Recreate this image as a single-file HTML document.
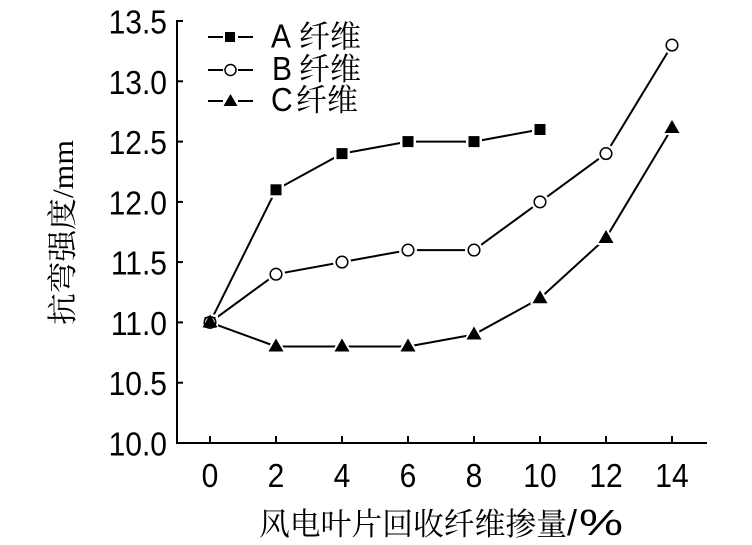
<!DOCTYPE html>
<html>
<head>
<meta charset="utf-8">
<style>
html,body{margin:0;padding:0;background:#fff;}
svg{display:block;}
.num{font-family:"Liberation Sans",Arial,sans-serif;font-size:30px;fill:#000;}
.cjk{font-family:"Liberation Serif","Noto Serif CJK SC",serif;fill:#000;}
</style>
</head>
<body>
<svg width="752" height="545" viewBox="0 0 752 545" xmlns="http://www.w3.org/2000/svg">
  <rect width="752" height="545" fill="#fff"/>
  <!-- axes -->
  <g stroke="#000" stroke-width="2" fill="none">
    <line x1="177" y1="20" x2="177" y2="444"/>
    <line x1="176" y1="443" x2="707" y2="443"/>
    <line x1="177" y1="21" x2="183" y2="21"/>
    <line x1="177" y1="81.3" x2="183" y2="81.3"/>
    <line x1="177" y1="141.6" x2="183" y2="141.6"/>
    <line x1="177" y1="201.9" x2="183" y2="201.9"/>
    <line x1="177" y1="262.1" x2="183" y2="262.1"/>
    <line x1="177" y1="322.4" x2="183" y2="322.4"/>
    <line x1="177" y1="382.7" x2="183" y2="382.7"/>
    <line x1="210" y1="443" x2="210" y2="436"/>
    <line x1="276" y1="443" x2="276" y2="436"/>
    <line x1="342" y1="443" x2="342" y2="436"/>
    <line x1="408" y1="443" x2="408" y2="436"/>
    <line x1="474" y1="443" x2="474" y2="436"/>
    <line x1="540" y1="443" x2="540" y2="436"/>
    <line x1="606" y1="443" x2="606" y2="436"/>
    <line x1="672" y1="443" x2="672" y2="436"/>
  </g>
  <!-- y tick labels -->
  <g class="num" text-anchor="end" transform="scale(1,1.12)">
    <text x="167" y="29.91">13.5</text>
    <text x="167" y="83.75">13.0</text>
    <text x="167" y="137.59">12.5</text>
    <text x="167" y="191.43">12.0</text>
    <text x="167" y="245.18">11.5</text>
    <text x="167" y="299.02">11.0</text>
    <text x="167" y="352.86">10.5</text>
    <text x="167" y="406.7">10.0</text>
  </g>
  <!-- x tick labels -->
  <g class="num" text-anchor="middle" transform="scale(1,1.12)">
    <text x="210" y="434.8">0</text>
    <text x="276" y="434.8">2</text>
    <text x="342" y="434.8">4</text>
    <text x="408" y="434.8">6</text>
    <text x="474" y="434.8">8</text>
    <text x="540" y="434.8">10</text>
    <text x="606" y="434.8">12</text>
    <text x="672" y="434.8">14</text>
  </g>
  <!-- axis titles -->
  <text class="cjk" x="259" y="535" font-size="31" textLength="308" lengthAdjust="spacingAndGlyphs">风电叶片回收纤维掺量</text>
  <text x="567" y="535" font-family="Liberation Sans,Arial,sans-serif" font-size="36">/</text>
  <text x="579" y="535" font-family="Liberation Sans,Arial,sans-serif" font-size="36" textLength="44" lengthAdjust="spacingAndGlyphs">%</text>
  <text class="cjk" transform="translate(73,325) rotate(-90)" x="0" y="0" font-size="30" textLength="185" lengthAdjust="spacingAndGlyphs">抗弯强度/mm</text>

  <!-- series lines -->
  <g stroke="#000" stroke-width="2" fill="none" stroke-linejoin="round">
    <polyline points="210,322.4 276,189.8 342,153.6 408,141.6 474,141.6 540,129.5"/>
    <polyline points="210,322.4 276,274.2 342,262.1 408,250.1 474,250.1 540,201.9 606,153.6 672,45.1"/>
    <polyline points="210,322.4 276,346.5 342,346.5 408,346.5 474,334.5 540,298.3 606,238 672,128"/>
  </g>

  <!-- A markers: squares -->
  <g>
    <g fill="#fff">
      <rect x="202" y="314.4" width="16" height="16"/>
      <rect x="268" y="181.8" width="16" height="16"/>
      <rect x="334" y="145.6" width="16" height="16"/>
      <rect x="400" y="133.6" width="16" height="16"/>
      <rect x="466" y="133.6" width="16" height="16"/>
      <rect x="532" y="121.5" width="16" height="16"/>
    </g>
    <g fill="#000">
      <rect x="204.5" y="316.9" width="11" height="11"/>
      <rect x="270.5" y="184.3" width="11" height="11"/>
      <rect x="336.5" y="148.1" width="11" height="11"/>
      <rect x="402.5" y="136.1" width="11" height="11"/>
      <rect x="468.5" y="136.1" width="11" height="11"/>
      <rect x="534.5" y="124" width="11" height="11"/>
    </g>
  </g>
  <!-- B markers: open circles -->
  <g>
    <g fill="#fff">
      <circle cx="276" cy="274.2" r="9"/>
      <circle cx="342" cy="262.1" r="9"/>
      <circle cx="408" cy="250.1" r="9"/>
      <circle cx="474" cy="250.1" r="9"/>
      <circle cx="540" cy="201.9" r="9"/>
      <circle cx="606" cy="153.6" r="9"/>
      <circle cx="672" cy="45.1" r="9"/>
    </g>
    <g fill="#fff" stroke="#000" stroke-width="1.5">
      <circle cx="210" cy="322.4" r="5.8"/>
      <circle cx="276" cy="274.2" r="5.8"/>
      <circle cx="342" cy="262.1" r="5.8"/>
      <circle cx="408" cy="250.1" r="5.8"/>
      <circle cx="474" cy="250.1" r="5.8"/>
      <circle cx="540" cy="201.9" r="5.8"/>
      <circle cx="606" cy="153.6" r="5.8"/>
      <circle cx="672" cy="45.1" r="5.8"/>
    </g>
  </g>
  <!-- C markers: triangles -->
  <g>
    <g fill="#fff" stroke="#fff" stroke-width="4" stroke-linejoin="round">
      <polygon points="276,338.5 283.5,351.5 268.5,351.5"/>
      <polygon points="342,338.5 349.5,351.5 334.5,351.5"/>
      <polygon points="408,338.5 415.5,351.5 400.5,351.5"/>
      <polygon points="474,326.5 481.5,339.5 466.5,339.5"/>
      <polygon points="540,290.3 547.5,303.3 532.5,303.3"/>
      <polygon points="606,230 613.5,243 598.5,243"/>
      <polygon points="672,120 679.5,133 664.5,133"/>
    </g>
    <g fill="#000">
      <polygon points="210,314.4 217.5,327.4 202.5,327.4"/>
      <polygon points="276,338.5 283.5,351.5 268.5,351.5"/>
      <polygon points="342,338.5 349.5,351.5 334.5,351.5"/>
      <polygon points="408,338.5 415.5,351.5 400.5,351.5"/>
      <polygon points="474,326.5 481.5,339.5 466.5,339.5"/>
      <polygon points="540,290.3 547.5,303.3 532.5,303.3"/>
      <polygon points="606,230 613.5,243 598.5,243"/>
      <polygon points="672,120 679.5,133 664.5,133"/>
    </g>
  </g>

  <!-- legend -->
  <g stroke="#000" stroke-width="2">
    <line x1="208" y1="37" x2="223" y2="37"/>
    <line x1="238" y1="37" x2="253" y2="37"/>
    <line x1="208" y1="70" x2="223" y2="70"/>
    <line x1="238" y1="70" x2="253" y2="70"/>
    <line x1="208" y1="101" x2="223" y2="101"/>
    <line x1="238" y1="101" x2="253" y2="101"/>
  </g>
  <rect x="225" y="32" width="10" height="10" fill="#000"/>
  <circle cx="230.5" cy="70" r="5.5" fill="#fff" stroke="#000" stroke-width="1.5"/>
  <polygon points="230.5,94 237.5,106 223.5,106" fill="#000"/>
  <g class="num" transform="scale(1,1.12)">
    <text x="271" y="42.4">A</text>
    <text x="272" y="71.4">B</text>
    <text x="271" y="99.1">C</text>
  </g>
  <g class="cjk" font-size="31">
    <text x="299" y="47.5">纤维</text>
    <text x="299" y="80">纤维</text>
    <text x="296" y="111">纤维</text>
  </g>
</svg>
</body>
</html>
